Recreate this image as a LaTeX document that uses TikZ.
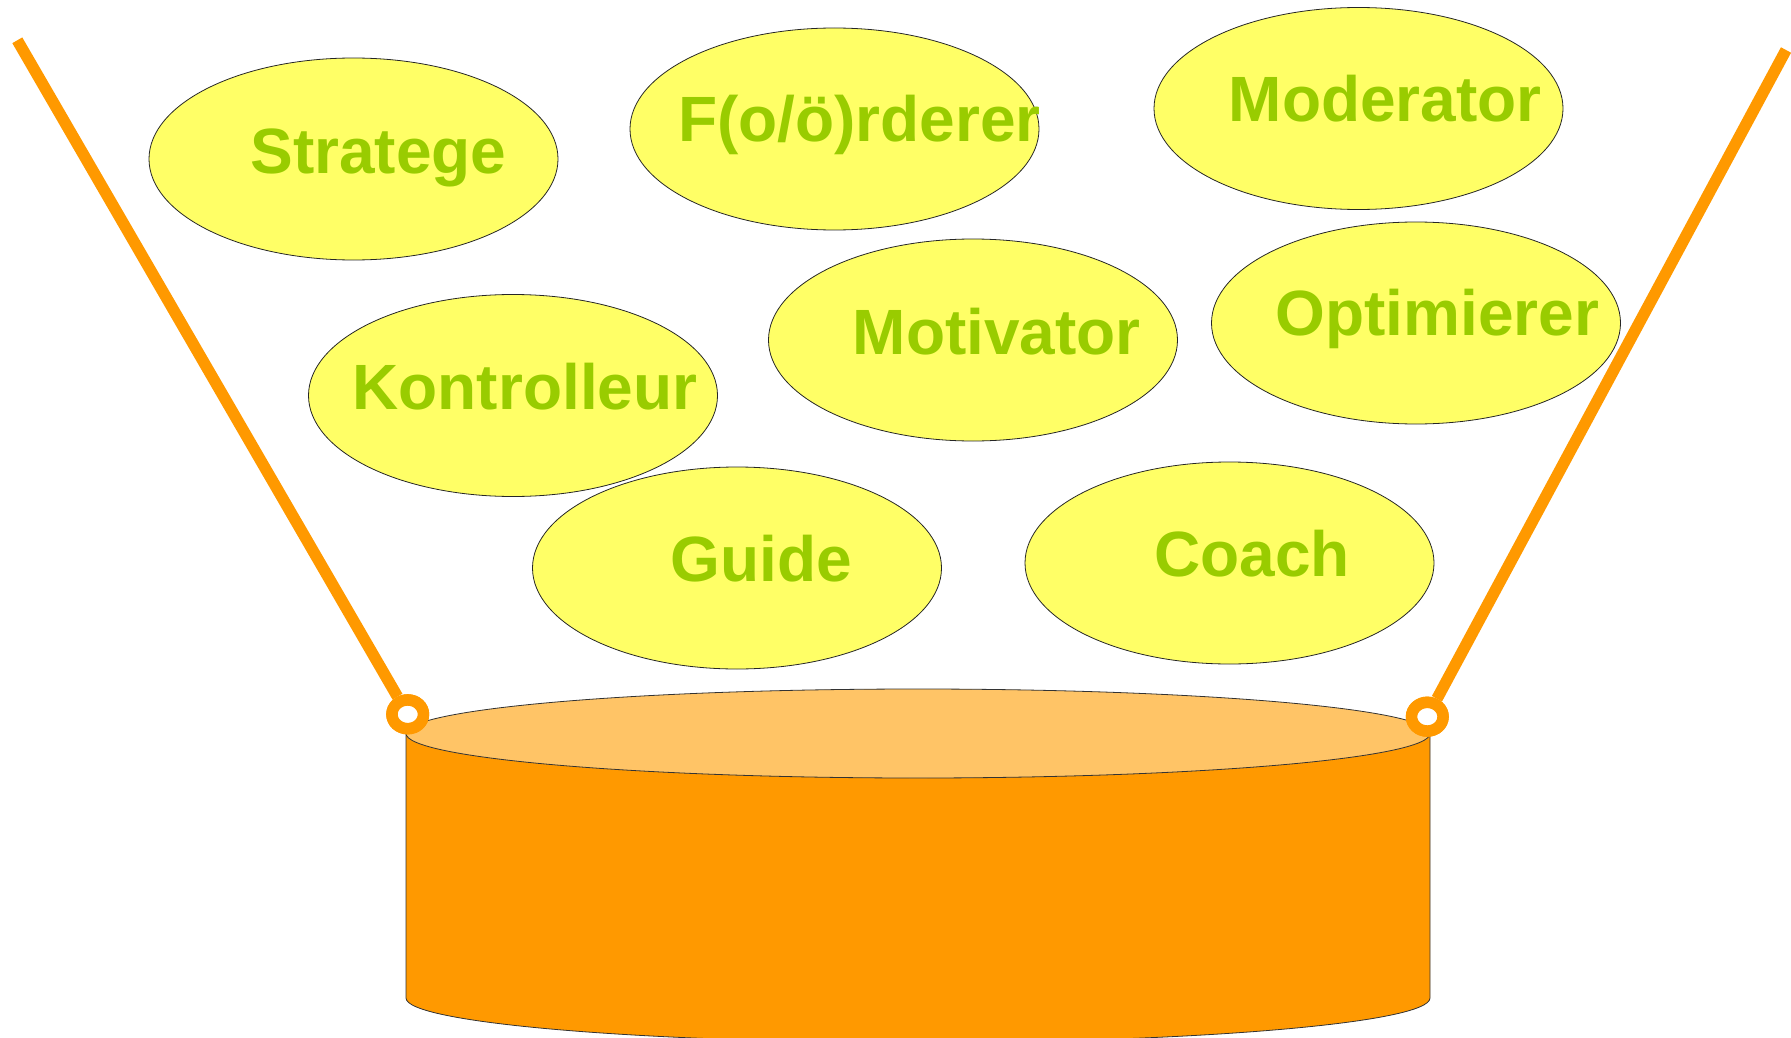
\documentclass[tikz,border=0pt]{standalone}
\usepackage{fontspec}
\setmainfont{Liberation Sans}
\usetikzlibrary{shapes.geometric}
\definecolor{bubbleYellow}{HTML}{FFFF66}
\definecolor{wordGreen}{HTML}{99CC00}
\definecolor{tubOrange}{HTML}{FF9900}
\definecolor{tubTop}{HTML}{FFC466}
\begin{document}
\begin{tikzpicture}[x=1pt,y=-1pt,
  bubble/.style={ellipse, draw=black!85, line width=0.8pt, fill=bubbleYellow,
    minimum width=409pt, minimum height=202pt, inner sep=0pt},
  word/.style={anchor=base, text=wordGreen, inner sep=0pt,
    font=\fontsize{64}{70}\selectfont\bfseries},
  rope/.style={draw=tubOrange, line width=11.5pt},
  ringnode/.style={ellipse, draw=tubOrange, line width=11.5pt, fill=white,
    minimum width=31.5pt, minimum height=28.7pt, inner sep=0pt},
  tubline/.style={draw=black!80, line width=0.8pt}]
\useasboundingbox (0,0) rectangle (1791,1038);
\clip (0,0) rectangle (1791,1038);

% tub
\path[tubline, fill=tubOrange] (406,733.5) -- (406,998)
  arc[start angle=180, end angle=0, x radius=512, y radius=44.5]
  -- (1430,733.5) -- cycle;
\node[ellipse, tubline, fill=tubTop, minimum width=1024pt, minimum height=89pt,
  inner sep=0pt] (tubtop) at (918,733.5) {};

% ropes and rings
\coordinate (ropeLtop) at (17.3,40.3);
\coordinate (ropeRtop) at (1786,50);
\node[ringnode] (ringL) at (407.7,714.3) {};
\node[ringnode] (ringR) at (1427.3,716.7) {};
\draw[rope] (ropeLtop) -- (ringL);
\draw[rope] (ropeRtop) -- (ringR);
\node[ringnode] at (ringL) {};
\node[ringnode] at (ringR) {};

% bubbles
\node[bubble] (strat) at (353.5,159) {};
\node[bubble] (ford) at (834.5,129) {};
\node[bubble] (mod) at (1358.5,108.5) {};
\node[bubble] (kon) at (513,395.5) {};
\node[bubble] (mot) at (973,340) {};
\node[bubble] (opt) at (1416,323) {};
\node[bubble] (gui) at (737,568) {};
\node[bubble] (coa) at (1229.5,563) {};

\node[word] (tstrat) at (378.4,173) {Stratege};
\node[word] (tford) at (859.5,141.7) {F(o/ö)rderer};
\node[word] (tmod) at (1385.3,121.7) {Moderator};
\node[word] (tkon) at (525,409.3) {Kontrolleur};
\node[word] (tmot) at (996.7,354) {Motivator};
\node[word] (topt) at (1437.3,335.5) {Optimierer};
\node[word] (tgui) at (761,581.5) {Guide};
\node[word] (tcoa) at (1252,576.7) {Coach};
\end{tikzpicture}
\end{document}
